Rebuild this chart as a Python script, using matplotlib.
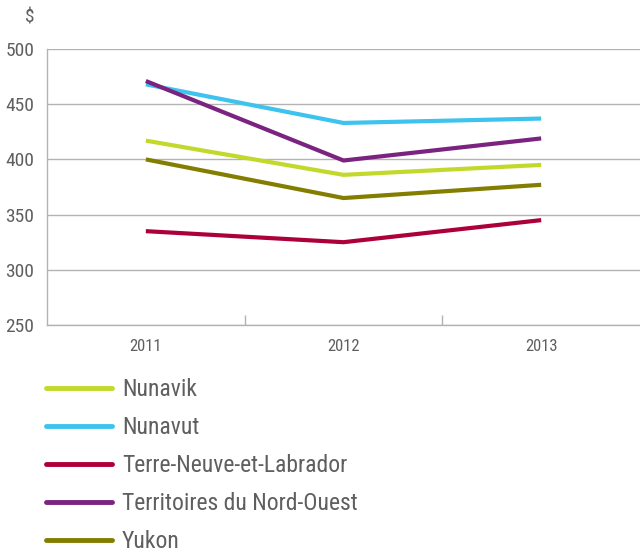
import matplotlib.pyplot as plt
import numpy as np

plt.rcParams['font.family'] = ['Roboto Condensed', 'Liberation Sans Narrow', 'Roboto', 'DejaVu Sans']

years = ['2011', '2012', '2013']
nunavik = [417, 386, 395]
nunavut = [468, 433, 437]
terre_neuve = [335, 325, 345]
tno = [471, 399, 419]
yukon = [400, 365, 377]

series = [
    ('Nunavik', nunavik, '#c2d92c'),
    ('Nunavut', nunavut, '#3dc3ee'),
    ('Terre-Neuve-et-Labrador', terre_neuve, '#ae0038'),
    ('Territoires du Nord-Ouest', tno, '#7a2381'),
    ('Yukon', yukon, '#837e00'),
]

txt = '#5f5f5f'
grid = '#b3b3b3'

fig = plt.figure(figsize=(6.4, 5.53), dpi=100)
ax = fig.add_axes([47/640, 1 - 325/553, (640 - 47)/640, (325 - 49)/553])

x = np.arange(len(years))
for name, vals, col in series:
    ax.plot(x, vals, color=col, linewidth=3, label=name, solid_capstyle='butt')

ax.set_xlim(-0.5, 2.5)
ax.set_ylim(250, 500)
ax.set_yticks(np.arange(250, 501, 50))
ax.set_xticks(x)
ax.set_xticklabels(years)
ax.set_xticks([0.5, 1.5], minor=True)
ax.grid(axis='y', color=grid, linewidth=1)
ax.set_axisbelow(True)

for s in ['top', 'right']:
    ax.spines[s].set_visible(False)
for s in ['left', 'bottom']:
    ax.spines[s].set_color(grid)
    ax.spines[s].set_linewidth(1)

ax.tick_params(axis='y', length=0, pad=9, labelsize=14, labelcolor=txt)
ax.tick_params(axis='x', which='major', length=0, pad=10, labelsize=12, labelcolor=txt)
ax.tick_params(axis='x', which='minor', direction='in', length=7, color=grid, width=1)

fig.text(30/640, 1 - 17/553, '$', ha='center', va='center', fontsize=14, color=txt)

leg = fig.legend(loc='upper left', bbox_to_anchor=(46/640, 1 - 378/553), frameon=False,
                 borderpad=0, borderaxespad=0,
                 fontsize=17, handlelength=2.8, handletextpad=0.42, labelspacing=0.64,
                 labelcolor=txt)
for h in leg.get_lines():
    h.set_linewidth(3.5)
    h.set_solid_capstyle('round')

fig.savefig('out.png', dpi=100)
